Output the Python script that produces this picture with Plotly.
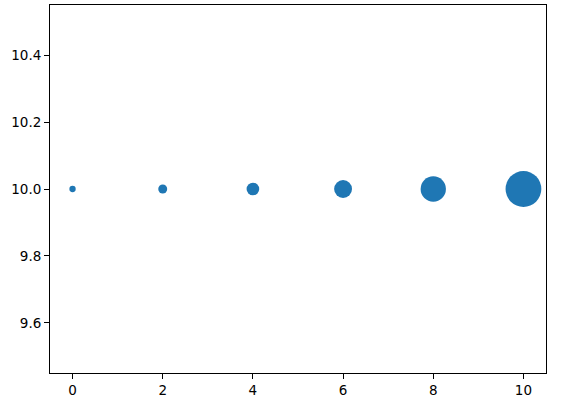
import plotly.graph_objects as go

# data
x_vals = [0, 2, 4, 6, 8, 10]
y_vals = [10, 10, 10, 10, 10, 10]
s_vals = [20, 40, 80, 160, 320, 640]  # marker area (pt^2)

fig = go.Figure()
fig.add_trace(go.Scatter(
    x=x_vals, y=y_vals, mode='markers',
    marker=dict(size=s_vals, sizemode='area', sizeref=1.0,
                color='#1f77b4', line=dict(width=0), opacity=1),
))

axis_style = dict(showline=True, linecolor='black', linewidth=1, mirror=True,
                  ticks='outside', ticklen=5, tickwidth=1, tickcolor='black',
                  showgrid=False, zeroline=False,
                  tickfont=dict(family='DejaVu Sans', size=13.5, color='black'))

fig.update_xaxes(range=[-0.5, 10.5], tickvals=[0, 2, 4, 6, 8, 10], **axis_style)
fig.update_yaxes(range=[9.45, 10.55], tickvals=[9.6, 9.8, 10.0, 10.2, 10.4],
                 tickformat='.1f', **axis_style)

fig.update_layout(width=563, height=404, showlegend=False,
                  plot_bgcolor='white', paper_bgcolor='white',
                  margin=dict(l=50, r=17, t=5, b=31))

# drop the default page margin so the figure sits at the top-left corner
fig.write_html("out.html", config={'displayModeBar': False},
               post_script="document.body.style.margin='0';")
